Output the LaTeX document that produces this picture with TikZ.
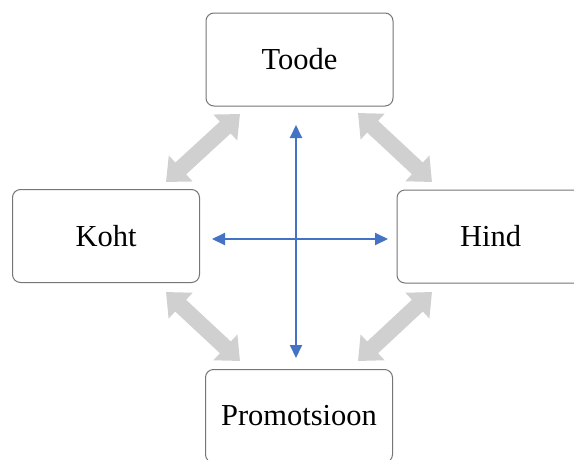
\documentclass[tikz,border=0pt]{standalone}
\usepackage{fontspec}
\setmainfont{Liberation Serif}
\usetikzlibrary{arrows.meta}
\definecolor{boxgray}{HTML}{767676}
\definecolor{arrgray}{HTML}{D0D0D0}
\definecolor{blu}{HTML}{4472C4}
\begin{document}
\begin{tikzpicture}[x=1pt,y=-1pt,
  box/.style={draw=boxgray, line width=1pt, rounded corners=8pt, minimum width=187pt, minimum height=93pt, fill=white, font=\fontsize{30.5}{36}\selectfont, inner sep=0pt},
  fat/.style={line width=16pt, draw=arrgray, {Triangle[length=20pt,width=34pt]}-{Triangle[length=20pt,width=34pt]}},
  bluearr/.style={line width=2pt, draw=blu, {Triangle[length=13pt,width=12pt]}-{Triangle[length=13pt,width=12pt]}}]
\useasboundingbox (0,0) rectangle (574,459);
\clip (0,0) rectangle (574,459);
\fill[white] (0,0) rectangle (574,459);
\node[box] (toode) at (299.5,59.5) {Toode};
\node[box] (koht) at (106,236) {Koht};
\node[box] (hind) at (490.5,236.5) {Hind};
\node[box] (promo) at (299,416) {Promotsioon};
% grey double arrows
\coordinate (a1) at (166,182); \coordinate (a2) at (240,114);
\coordinate (b1) at (358,113); \coordinate (b2) at (432,182);
\coordinate (c1) at (166,292); \coordinate (c2) at (240,361);
\coordinate (d1) at (432,292); \coordinate (d2) at (358,361);
\draw[fat] (a1) -- (a2);
\draw[fat] (b1) -- (b2);
\draw[fat] (c1) -- (c2);
\draw[fat] (d1) -- (d2);
% blue cross
\coordinate (vt) at (296,125); \coordinate (vb) at (296,358);
\coordinate (hl) at (212,239); \coordinate (hr) at (388,239);
\draw[bluearr] (vt) -- (vb);
\draw[bluearr] (hl) -- (hr);
\end{tikzpicture}
\end{document}
